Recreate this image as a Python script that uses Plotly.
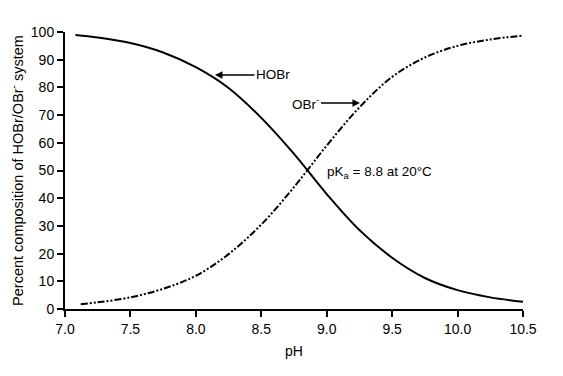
import plotly.graph_objects as go

# pH grid and percent composition
ph_hobr = [7.08, 7.25, 7.5, 7.75, 8.0, 8.25, 8.5, 8.75, 9.0, 9.25, 9.5, 9.75, 10.0, 10.25, 10.5]
hobr = [98.9, 98.0, 96.0, 92.6, 87.3, 79.8, 69.0, 56.0, 41.5, 28.5, 18.5, 11.2, 6.8, 4.2, 2.6]

ph_obr = [7.12, 7.25, 7.5, 7.75, 8.0, 8.25, 8.5, 8.75, 9.0, 9.25, 9.5, 9.75, 10.0, 10.25, 10.5]
obr = [1.7, 2.4, 4.2, 7.3, 12.0, 19.8, 30.5, 44.0, 59.0, 72.8, 83.8, 90.8, 95.0, 97.3, 98.7]

x_ticks = [7.0, 7.5, 8.0, 8.5, 9.0, 9.5, 10.0, 10.5]
x_ticktext = ["7.0", "7.5", "8.0", "8.5", "9.0", "9.5", "10.0", "10.5"]
y_ticks = [0, 10, 20, 30, 40, 50, 60, 70, 80, 90, 100]

FONT = "Liberation Sans, Arial, sans-serif"

fig = go.Figure()
fig.add_trace(go.Scatter(x=ph_hobr, y=hobr, mode="lines", name="HOBr",
                         line=dict(color="black", width=2, shape="spline", smoothing=1.0)))
fig.add_trace(go.Scatter(x=ph_obr, y=obr, mode="lines", name="OBr-",
                         line=dict(color="black", width=2, shape="spline", smoothing=1.0,
                                   dash="7px,2px,2px,2px,2px,2px")))

fig.add_annotation(x=8.146, y=84.5, text="HOBr", showarrow=True, ax=58, ay=0,
                   arrowhead=2, arrowsize=1, arrowwidth=1.5, arrowcolor="black",
                   font=dict(family=FONT, size=13.5, color="black"))
fig.add_annotation(x=9.254, y=74.4, text="OBr<sup>-</sup>", showarrow=True, ax=-54, ay=0,
                   arrowhead=2, arrowsize=1, arrowwidth=1.5, arrowcolor="black",
                   font=dict(family=FONT, size=13.5, color="black"))
fig.add_annotation(x=8.987, y=49.1, text="pK<sub>a</sub> = 8.8 at 20°C", showarrow=False,
                   xanchor="left", yanchor="middle",
                   font=dict(family=FONT, size=13.5, color="black"))

fig.update_layout(
    width=563, height=376,
    margin=dict(l=65, r=40, t=32, b=67),
    paper_bgcolor="white", plot_bgcolor="white",
    showlegend=False,
    font=dict(family=FONT, size=14, color="black"),
    xaxis=dict(range=[7.0, 10.5], tickvals=x_ticks, ticktext=x_ticktext,
               showline=True, linecolor="black", linewidth=2,
               ticks="outside", ticklen=6, tickwidth=1.5, tickcolor="black",
               showgrid=False, zeroline=False, tickfont=dict(size=14),
               title=dict(text="pH", standoff=10, font=dict(size=14))),
    yaxis=dict(range=[0, 100], tickvals=y_ticks,
               showline=True, linecolor="black", linewidth=2,
               ticks="outside", ticklen=6, tickwidth=1.5, tickcolor="black",
               showgrid=False, zeroline=False, tickfont=dict(size=14),
               title=dict(text="Percent composition of HOBr/OBr<sup>-</sup> system",
                          standoff=4, font=dict(size=14.5))),
)

fig.write_html("out.html")
